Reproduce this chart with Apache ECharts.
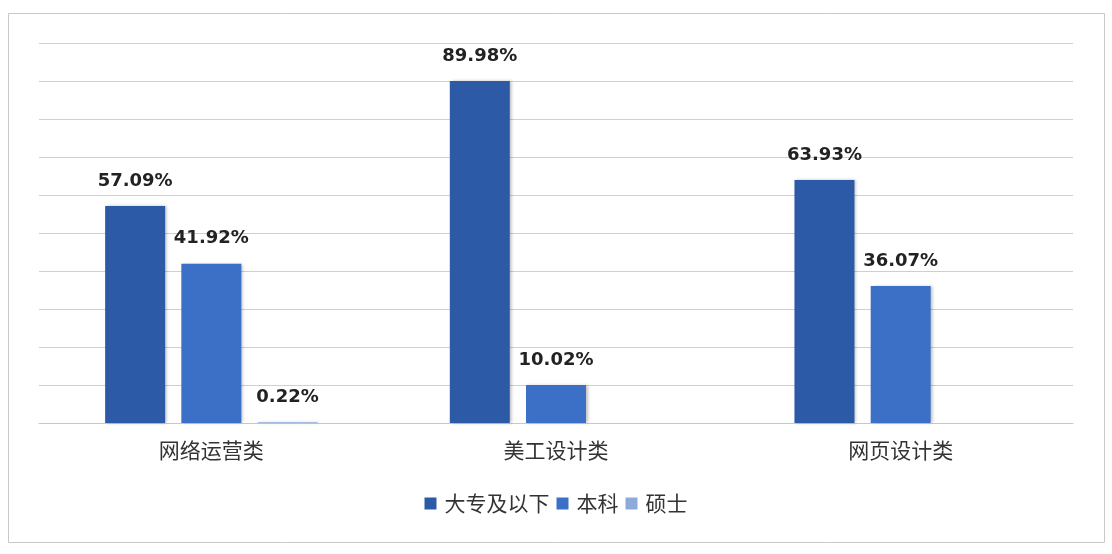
<!DOCTYPE html>
<html>
<head>
<meta charset="utf-8">
<script src="https://cdn.jsdelivr.net/npm/echarts@6/dist/echarts.min.js"></script>
<style>
html,body{margin:0;padding:0;background:#fff;}
#main{width:1112px;height:554px;}
</style>
</head>
<body>
<div id="main"></div>
<script>
const categories = ['网络运营类', '美工设计类', '网页设计类'];
const seriesNames = ['大专及以下', '本科', '硕士'];
const dazhuan = [57.09, 89.98, 63.93];
const benke = [41.92, 10.02, 36.07];
const shuoshi = [0.22, null, null];
const colors = ['#2D5AA6', '#3B70C6', '#8EAADB'];

const chart = echarts.init(document.getElementById('main'));
const labelCfg = {
  show: true,
  position: 'top',
  distance: 16,
  fontSize: 18,
  fontWeight: 'bold',
  color: '#222',
  fontFamily: 'DejaVu Sans, sans-serif',
  formatter: p => p.value.toFixed(2) + '%'
};
function mk(name, data, color) {
  return {
    name: name,
    type: 'bar',
    data: data,
    barWidth: 60,
    barGap: '27%',
    itemStyle: {
      color: color,
      shadowColor: 'rgba(0,0,0,0.25)',
      shadowBlur: 3,
      shadowOffsetX: 2,
      shadowOffsetY: 0
    },
    label: labelCfg
  };
}
chart.setOption({
  backgroundColor: '#ffffff',
  color: colors,
  textStyle: { fontFamily: 'Noto Sans CJK SC, sans-serif' },
  graphic: [{
    type: 'rect',
    shape: { x: 8.5, y: 13.5, width: 1096, height: 529 },
    style: { fill: 'none', stroke: '#c8c8c8', lineWidth: 1 },
    silent: true,
    z: -1
  }],
  grid: { left: 39, right: 39, top: 43, bottom: 131 },
  legend: {
    data: seriesNames,
    bottom: 35,
    left: 'center',
    itemWidth: 12,
    itemHeight: 12,
    itemGap: 7,
    icon: 'rect',
    textStyle: { fontSize: 21, color: '#333', fontFamily: 'Noto Sans CJK SC', padding: [0, 0, 0, 3] }
  },
  xAxis: {
    type: 'category',
    data: categories,
    axisLine: { show: true, lineStyle: { color: '#c8c8c8' } },
    axisTick: { show: false },
    axisLabel: { fontSize: 21, color: '#333', margin: 17, fontFamily: 'Noto Sans CJK SC' }
  },
  yAxis: {
    type: 'value',
    min: 0,
    max: 100,
    interval: 10,
    axisLabel: { show: false },
    axisLine: { show: false },
    axisTick: { show: false },
    splitLine: { lineStyle: { color: '#cfcfcf', width: 1 } }
  },
  series: [
    mk(seriesNames[0], dazhuan, colors[0]),
    mk(seriesNames[1], benke, colors[1]),
    mk(seriesNames[2], shuoshi, colors[2])
  ]
});
</script>
</body>
</html>
